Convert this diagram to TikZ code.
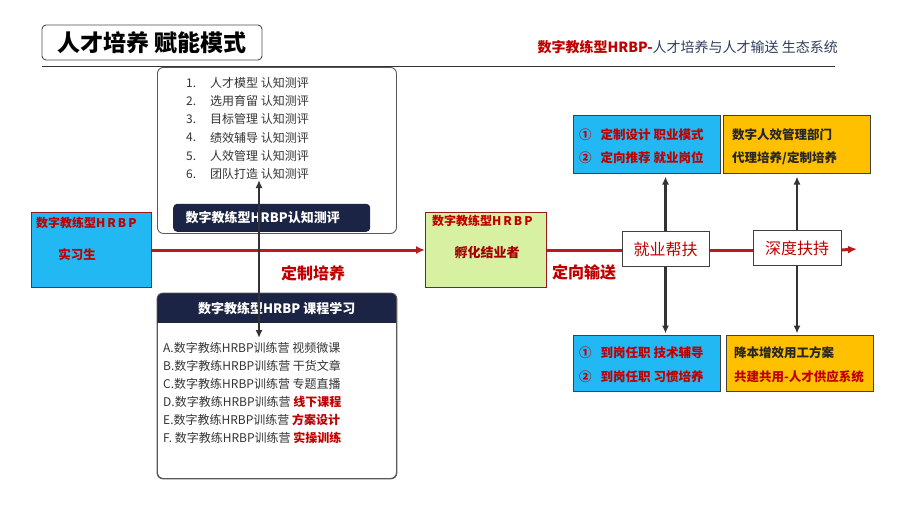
\documentclass[tikz,border=0pt]{standalone}
\usepackage{fontspec}
\setmainfont{Noto Sans CJK SC}
\usepackage{xcolor}
\usepackage{tikz}
\usetikzlibrary{positioning,calc,arrows.meta}

\definecolor{cyanfill}{HTML}{22B8F4}
\definecolor{limefill}{HTML}{D8F0A2}
\definecolor{amberfill}{HTML}{FFC000}
\definecolor{navybar}{HTML}{1B2444}
\definecolor{flowred}{HTML}{B81C1C}
\definecolor{textred}{HTML}{C00000}
\definecolor{textgray}{HTML}{333333}
\definecolor{titleblue}{HTML}{2F3E5C}

\newcommand{\fsz}[1]{\fontsize{#1}{#1}\selectfont}

\tikzset{
  panel/.style={draw=black!65, line width=0.9pt, rounded corners=6pt},
  darkbar/.style={fill=navybar, text=white, font=\fsz{13}\bfseries},
  stagebox/.style={draw=flowred!85!black, line width=1pt},
  infobox/.style={draw=black!75, line width=1pt, minimum width=147, minimum height=58},
  hubbox/.style={draw=black!75, fill=white, line width=1pt, minimum height=35, text=textred, font=\fsz{16}},
  mainflow/.style={draw=flowred, line width=3pt, -{Latex[length=9pt,width=8pt]}},
  plainflow/.style={draw=flowred, line width=3pt},
  vlink/.style={draw=black!80, line width=2.6pt, {Latex[length=8pt,width=7pt]}-{Latex[length=8pt,width=7pt]}},
  listtxt/.style={text=textgray, font=\fsz{12}, anchor=west},
  boxtxt/.style={font=\fsz{12.5}\bfseries, anchor=west},
}

\begin{document}
\begin{tikzpicture}[x=1pt, y=-1pt, every node/.append style={inner sep=0pt}]
  \useasboundingbox (0,0) rectangle (903,504);

  % Title and rule
  \node[draw=black!70, line width=0.9pt, rounded corners=4pt, minimum width=220, minimum height=35,
        font=\fsz{23}\bfseries] (title) at (152,42.5) {人才培养 赋能模式};
  \node[anchor=east, font=\fsz{14}] (subtitle) at (838,47)
       {\textcolor{textred}{\bfseries 数字教练型HRBP-}\textcolor{titleblue}{人才培养与人才输送 生态系统}};
  \draw[black!80, line width=1pt] (42,66) -- (835,66);

  % Cognitive evaluation panel
  \node[panel, anchor=north west, minimum width=239, minimum height=166] (evalpanel) at (157,67) {};
  \foreach \i/\t in {1/人才模型,2/选用育留,3/目标管理,4/绩效辅导,5/人效管理,6/团队打造} {
    \node[listtxt] (evalnum\i) at (186,{83+18.2*(\i-1)}) {\i.};
    \node[listtxt] (eval\i) at (210,{83+18.2*(\i-1)}) {\t\ 认知测评};
  }
  \node[darkbar, rounded corners=4pt, anchor=south west, minimum width=197, minimum height=28] (evalbar) at (173,232)
       {\hspace*{-18pt}数字教练型HRBP认知测评};

  % Course panel
  \node[panel, anchor=north west, minimum width=239, minimum height=185] (coursepanel) at (157,293) {};
  \begin{scope}
    \clip[rounded corners=6pt] (coursepanel.south west) rectangle (coursepanel.north east);
    \node[darkbar, anchor=north west, minimum width=239, minimum height=30] (coursebar) at (coursepanel.north west)
         {数字教练型HRBP 课程学习};
  \end{scope}
  \draw[panel] (coursepanel.south west) rectangle (coursepanel.north east);
  \foreach \k/\t [count=\n] in {A./视频微课,B./干货文章,C./专题直播} {
    \node[listtxt] (course\n) at (163,{348+18*(\n-1)}) {\k 数字教练HRBP训练营 \t};
  }
  \foreach \k/\t [count=\n from 4] in {D./线下课程,E./方案设计,F. /实操训练} {
    \node[listtxt] (course\n) at (163,{348+18*(\n-1)}) {\k 数字教练HRBP训练营 \textcolor{textred}{\bfseries\t}};
  }

  % Stage boxes
  \node[stagebox, fill=cyanfill, anchor=north west, minimum width=120, minimum height=75] (intern) at (31,212) {};
  \node[anchor=west, text=textred, font=\fsz{12}\bfseries] (interntop) at (36,223) {数字教练型H\,R\,B\,P};
  \node[text=textred, font=\fsz{12.5}\bfseries] (internname) at (77,255) {实习生};

  \node[stagebox, fill=limefill, anchor=north west, minimum width=121, minimum height=75] (incubate) at (425,212) {};
  \node[anchor=west, text=textred, font=\fsz{12}\bfseries] (incubatetop) at (432,221) {数字教练型H\,R\,B\,P};
  \node[text=textred!85!black, font=\fsz{13}\bfseries] (incubatename) at (487,253) {孵化结业者};

  % Support boxes
  \node[infobox, fill=cyanfill] (plantop) at (646.5,144) {};
  \node[infobox, fill=amberfill] (depttop) at (797,144) {};
  \node[infobox, fill=cyanfill, minimum height=56] (planbot) at (646.5,363) {};
  \node[infobox, fill=amberfill, minimum height=56] (deptbot) at (799.5,363) {};

  \coordinate (jobpos) at (665.5,249);
  \coordinate (deeppos) at (797,248);
  \draw[vlink, shorten <=3pt, shorten >=1pt] (jobpos |- plantop.south) -- (jobpos |- planbot.north);
  \draw[vlink, shorten <=3pt, shorten >=1pt] (deeppos |- depttop.south) -- (deeppos |- deptbot.north);

  % Main flow
  \node[hubbox, minimum width=87] (jobhelp) at (jobpos) {就业帮扶};
  \node[hubbox, minimum width=88] (deephelp) at (deeppos) {深度扶持};
  \coordinate (flowend) at (857,249);
  \draw[mainflow] (intern.east |- 0,250) -- (incubate.west |- 0,250);
  \draw[plainflow] (incubate.east |- 0,250) -- (jobhelp.west |- 0,250);
  \draw[plainflow] (jobhelp.east |- 0,250) -- (deephelp.west |- 0,250);
  \draw[mainflow] (deephelp.east |- 0,250) -- (flowend);

  % Link between the two panels
  \coordinate (linktop) at (259,180);
  \coordinate (linkbot) at (259,338);
  \draw[vlink] (linktop) -- (linkbot);

  \node[text=textred, font=\fsz{16}\bfseries] (custom) at (313,273) {定制培养};
  \node[text=textred, font=\fsz{16}\bfseries] (deliver) at (584,272) {定向输送};

  % Box texts
  \node[boxtxt, text=textred] (planA) at (579,135) {①\hspace{9pt}定制设计 职业模式};
  \node[boxtxt, text=textred] (planB) at (579,158) {②\hspace{9pt}定向推荐 就业岗位};
  \node[boxtxt, text=black!85] (deptA) at (732,135) {数字人效管理部门};
  \node[boxtxt, text=black!85] (deptB) at (732,158) {代理培养/定制培养};
  \node[boxtxt, text=textred] (planC) at (579,353) {①\hspace{9pt}到岗任职 技术辅导};
  \node[boxtxt, text=textred] (planD) at (579,377) {②\hspace{9pt}到岗任职 习惯培养};
  \node[boxtxt, text=black!85] (deptC) at (734,353) {降本增效用工方案};
  \node[boxtxt, text=red!75!black] (deptD) at (734,377) {共建共用-人才供应系统};
\end{tikzpicture}
\end{document}
